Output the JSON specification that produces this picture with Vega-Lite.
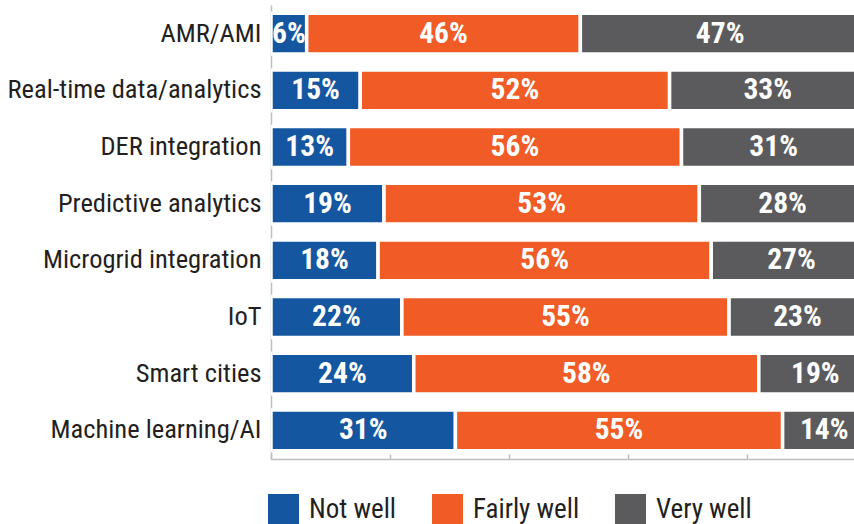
{
  "$schema": "https://vega.github.io/schema/vega-lite/v6.json",
  "width": 583,
  "height": 454,
  "autosize": {"type": "none"},
  "padding": {"left": 271, "top": 5, "right": 0, "bottom": 65},
  "background": "white",
  "config": {
    "view": {"stroke": null},
    "font": "Liberation Sans Narrow, Roboto Condensed, DejaVu Sans Condensed, sans-serif"
  },
  "data": {
    "values": [
      {"category": "AMR/AMI", "response": "Not well", "order": 1, "value": 0.06},
      {"category": "AMR/AMI", "response": "Fairly well", "order": 2, "value": 0.46},
      {"category": "AMR/AMI", "response": "Very well", "order": 3, "value": 0.47},
      {"category": "Real-time data/analytics", "response": "Not well", "order": 1, "value": 0.15},
      {"category": "Real-time data/analytics", "response": "Fairly well", "order": 2, "value": 0.52},
      {"category": "Real-time data/analytics", "response": "Very well", "order": 3, "value": 0.33},
      {"category": "DER integration", "response": "Not well", "order": 1, "value": 0.13},
      {"category": "DER integration", "response": "Fairly well", "order": 2, "value": 0.56},
      {"category": "DER integration", "response": "Very well", "order": 3, "value": 0.31},
      {"category": "Predictive analytics", "response": "Not well", "order": 1, "value": 0.19},
      {"category": "Predictive analytics", "response": "Fairly well", "order": 2, "value": 0.53},
      {"category": "Predictive analytics", "response": "Very well", "order": 3, "value": 0.28},
      {"category": "Microgrid integration", "response": "Not well", "order": 1, "value": 0.18},
      {"category": "Microgrid integration", "response": "Fairly well", "order": 2, "value": 0.56},
      {"category": "Microgrid integration", "response": "Very well", "order": 3, "value": 0.27},
      {"category": "IoT", "response": "Not well", "order": 1, "value": 0.22},
      {"category": "IoT", "response": "Fairly well", "order": 2, "value": 0.55},
      {"category": "IoT", "response": "Very well", "order": 3, "value": 0.23},
      {"category": "Smart cities", "response": "Not well", "order": 1, "value": 0.24},
      {"category": "Smart cities", "response": "Fairly well", "order": 2, "value": 0.58},
      {"category": "Smart cities", "response": "Very well", "order": 3, "value": 0.19},
      {"category": "Machine learning/AI", "response": "Not well", "order": 1, "value": 0.31},
      {"category": "Machine learning/AI", "response": "Fairly well", "order": 2, "value": 0.55},
      {"category": "Machine learning/AI", "response": "Very well", "order": 3, "value": 0.14}
    ]
  },
  "transform": [
    {"stack": "value", "groupby": ["category"], "sort": [{"field": "order", "order": "ascending"}], "as": ["x0", "x1"]},
    {"calculate": "(datum.x0 + datum.x1) / 2", "as": "mid"}
  ],
  "encoding": {
    "y": {
      "field": "category",
      "type": "nominal",
      "sort": null,
      "scale": {"paddingInner": 0.28, "paddingOuter": 0.146},
      "axis": {
        "title": null,
        "ticks": false,
        "domain": true,
        "domainColor": "#BCBEC0",
        "domainWidth": 1.5,
        "labelFontSize": 26.5,
        "labelColor": "#231F20",
        "labelPadding": 10,
        "labelLimit": 400
      }
    }
  },
  "layer": [
    {
      "mark": {"type": "bar", "stroke": "white", "strokeWidth": 3.5, "clip": true},
      "encoding": {
        "x": {
          "field": "x0",
          "type": "quantitative",
          "scale": {"domain": [0, 0.98], "nice": false, "zero": false},
          "axis": {
            "title": null,
            "labels": false,
            "grid": false,
            "values": [0, 0.2, 0.4, 0.6, 0.8],
            "tickSize": -5,
            "tickColor": "#BCBEC0",
            "tickWidth": 1.5,
            "domainColor": "#BCBEC0",
            "domainWidth": 1.5
          }
        },
        "x2": {"field": "x1"},
        "color": {
          "field": "response",
          "type": "nominal",
          "sort": ["Not well", "Fairly well", "Very well"],
          "scale": {"domain": ["Not well", "Fairly well", "Very well"], "range": ["#1456A0", "#F15B25", "#5B5B5D"]},
          "legend": {
            "title": null,
            "orient": "none",
            "legendX": -3,
            "legendY": 489,
            "direction": "horizontal",
            "columns": 3,
            "padding": 0,
            "symbolType": "square",
            "symbolSize": 961,
            "symbolStrokeWidth": 0,
            "symbolOpacity": 1,
            "labelFontSize": 27,
            "labelColor": "#231F20",
            "labelOffset": 10,
            "columnPadding": 35
          }
        }
      }
    },
    {
      "mark": {"type": "text", "color": "white", "fontSize": 29.5, "fontWeight": "bold", "baseline": "middle", "align": "center"},
      "encoding": {
        "x": {"field": "mid", "type": "quantitative"},
        "text": {"field": "value", "type": "quantitative", "format": ".0%"}
      }
    }
  ]
}
